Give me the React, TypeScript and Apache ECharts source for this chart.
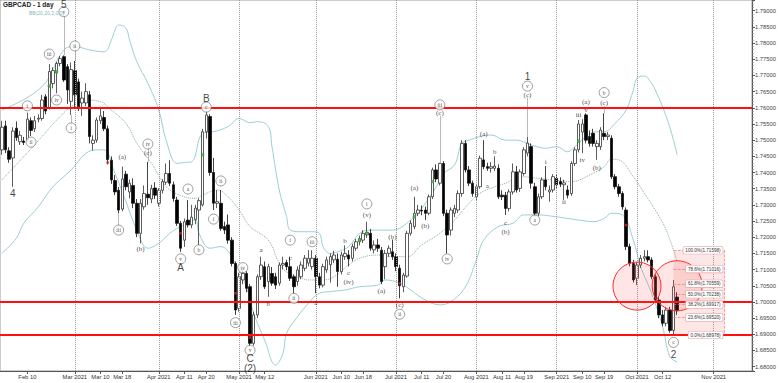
import React, { useEffect, useRef } from "react";
import * as echarts from "echarts";

const FIRST_DAY = "2021-02-01";
const SLOT_COUNT = 206;

function tradingDays(first: string, n: number): string[] {
  const out: string[] = [];
  const d = new Date(first + "T00:00:00Z");
  while (out.length < n) {
    const w = d.getUTCDay();
    if (w !== 0 && w !== 6) out.push(d.toISOString().slice(0, 10));
    d.setUTCDate(d.getUTCDate() + 1);
  }
  return out;
}
const dates = tradingDays(FIRST_DAY, SLOT_COUNT);

// [open, high, low, close] per trading day from 2021-02-01
const ohlc: number[][] = [
  [1.7470, 1.7560, 1.7455, 1.7540], [1.7544, 1.7560, 1.7460, 1.7470], [1.7467, 1.7478, 1.7430, 1.7441],
  [1.7445, 1.7540, 1.7356, 1.7528], [1.7537, 1.7558, 1.7498, 1.7508], [1.7495, 1.7528, 1.7485, 1.7515],
  [1.7497, 1.7510, 1.7485, 1.7493], [1.7500, 1.7585, 1.7495, 1.7565], [1.7560, 1.7570, 1.7513, 1.7530],
  [1.7535, 1.7575, 1.7525, 1.7560], [1.7565, 1.7580, 1.7555, 1.7568], [1.7567, 1.7640, 1.7560, 1.7624],
  [1.7634, 1.7642, 1.7580, 1.7590], [1.7600, 1.7735, 1.7595, 1.7712], [1.7675, 1.7725, 1.7660, 1.7715],
  [1.7708, 1.7742, 1.7645, 1.7737], [1.7737, 1.7760, 1.7728, 1.7752], [1.7758, 1.7762, 1.7680, 1.7686],
  [1.7727, 1.7735, 1.7612, 1.7655], [1.7620, 1.7740, 1.7578, 1.7718], [1.7715, 1.7745, 1.7600, 1.7640],
  [1.7680, 1.7690, 1.7590, 1.7603], [1.7615, 1.7650, 1.7575, 1.7630], [1.7615, 1.7676, 1.7605, 1.7650],
  [1.7640, 1.7652, 1.7490, 1.7511], [1.7490, 1.7515, 1.7468, 1.7500], [1.7500, 1.7570, 1.7492, 1.7562],
  [1.7560, 1.7603, 1.7550, 1.7575], [1.7570, 1.7590, 1.7528, 1.7535], [1.7535, 1.7545, 1.7425, 1.7440],
  [1.7438, 1.7450, 1.7365, 1.7377], [1.7375, 1.7392, 1.7330, 1.7340], [1.7345, 1.7355, 1.7274, 1.7284],
  [1.7287, 1.7418, 1.7280, 1.7380], [1.7395, 1.7405, 1.7345, 1.7356], [1.7340, 1.7378, 1.7320, 1.7367],
  [1.7360, 1.7382, 1.7290, 1.7305], [1.7305, 1.7318, 1.7200, 1.7212], [1.7212, 1.7318, 1.7181, 1.7305],
  [1.7294, 1.7360, 1.7285, 1.7335], [1.7333, 1.7433, 1.7300, 1.7322], [1.7318, 1.7362, 1.7305, 1.7350],
  [1.7352, 1.7370, 1.7318, 1.7330], [1.7305, 1.7352, 1.7295, 1.7345], [1.7345, 1.7380, 1.7335, 1.7372],
  [1.7370, 1.7428, 1.7362, 1.7397], [1.7397, 1.7438, 1.7358, 1.7367], [1.7362, 1.7372, 1.7310, 1.7320],
  [1.7315, 1.7325, 1.7235, 1.7243], [1.7243, 1.7250, 1.7155, 1.7166], [1.7191, 1.7258, 1.7170, 1.7248],
  [1.7253, 1.7315, 1.7230, 1.7238], [1.7238, 1.7300, 1.7228, 1.7262], [1.7255, 1.7300, 1.7240, 1.7290],
  [1.7284, 1.7320, 1.7176, 1.7313], [1.7300, 1.7535, 1.7295, 1.7526], [1.7526, 1.7590, 1.7505, 1.7578],
  [1.7573, 1.7580, 1.7390, 1.7400], [1.7400, 1.7445, 1.7284, 1.7305], [1.7305, 1.7346, 1.7290, 1.7310],
  [1.7305, 1.7346, 1.7220, 1.7227], [1.7233, 1.7248, 1.7210, 1.7222], [1.7238, 1.7270, 1.7180, 1.7191],
  [1.7191, 1.7200, 1.7110, 1.7119], [1.7119, 1.7125, 1.6960, 1.6975], [1.6980, 1.7090, 1.6970, 1.7078],
  [1.7068, 1.7104, 1.7055, 1.7088], [1.7088, 1.7095, 1.7030, 1.7042], [1.7047, 1.7055, 1.6862, 1.6872],
  [1.6872, 1.6970, 1.6865, 1.6960], [1.6960, 1.7085, 1.6950, 1.7078], [1.7078, 1.7140, 1.7068, 1.7114],
  [1.7109, 1.7125, 1.7040, 1.7047], [1.7063, 1.7118, 1.7016, 1.7109], [1.7088, 1.7108, 1.7050, 1.7058],
  [1.7078, 1.7090, 1.7040, 1.7052], [1.7058, 1.7122, 1.7050, 1.7114], [1.7114, 1.7140, 1.7100, 1.7119],
  [1.7122, 1.7130, 1.7098, 1.7109], [1.7109, 1.7140, 1.7065, 1.7073], [1.7078, 1.7085, 1.7027, 1.7047],
  [1.7063, 1.7110, 1.7050, 1.7099], [1.7078, 1.7125, 1.7070, 1.7114], [1.7104, 1.7145, 1.7095, 1.7135],
  [1.7120, 1.7160, 1.7110, 1.7135], [1.7109, 1.7160, 1.7100, 1.7135], [1.7135, 1.7145, 1.7027, 1.7078],
  [1.7078, 1.7090, 1.7042, 1.7052], [1.7052, 1.7118, 1.7045, 1.7109], [1.7099, 1.7140, 1.7090, 1.7130],
  [1.7115, 1.7150, 1.7060, 1.7140], [1.7130, 1.7158, 1.7120, 1.7145], [1.7132, 1.7150, 1.7047, 1.7094],
  [1.7094, 1.7155, 1.7085, 1.7145], [1.7140, 1.7175, 1.7130, 1.7150], [1.7145, 1.7160, 1.7110, 1.7133],
  [1.7135, 1.7180, 1.7125, 1.7171], [1.7166, 1.7195, 1.7158, 1.7186], [1.7186, 1.7205, 1.7175, 1.7196],
  [1.7191, 1.7222, 1.7182, 1.7212], [1.7207, 1.7248, 1.7198, 1.7215], [1.7212, 1.7225, 1.7158, 1.7166],
  [1.7161, 1.7190, 1.7150, 1.7176], [1.7176, 1.7195, 1.7155, 1.7166], [1.7160, 1.7170, 1.7055, 1.7063],
  [1.7109, 1.7160, 1.7070, 1.7150], [1.7150, 1.7175, 1.7140, 1.7166], [1.7155, 1.7193, 1.7130, 1.7140],
  [1.7140, 1.7150, 1.7095, 1.7109], [1.7104, 1.7115, 1.7011, 1.7050], [1.7047, 1.7090, 1.7030, 1.7083],
  [1.7080, 1.7220, 1.7075, 1.7212], [1.7212, 1.7252, 1.7205, 1.7243], [1.7233, 1.7325, 1.7225, 1.7274],
  [1.7274, 1.7300, 1.7265, 1.7284], [1.7283, 1.7298, 1.7268, 1.7281], [1.7284, 1.7295, 1.7253, 1.7274],
  [1.7274, 1.7332, 1.7268, 1.7325], [1.7325, 1.7415, 1.7318, 1.7408], [1.7408, 1.7425, 1.7370, 1.7380],
  [1.7367, 1.7430, 1.7360, 1.7428], [1.7428, 1.7435, 1.7265, 1.7274], [1.7274, 1.7285, 1.7150, 1.7207],
  [1.7222, 1.7292, 1.7205, 1.7284], [1.7274, 1.7300, 1.7262, 1.7289], [1.7284, 1.7345, 1.7275, 1.7335],
  [1.7335, 1.7500, 1.7325, 1.7490], [1.7490, 1.7500, 1.7400, 1.7408], [1.7408, 1.7420, 1.7358, 1.7367],
  [1.7367, 1.7375, 1.7325, 1.7335], [1.7325, 1.7365, 1.7315, 1.7356], [1.7356, 1.7452, 1.7350, 1.7444],
  [1.7439, 1.7500, 1.7410, 1.7418], [1.7418, 1.7430, 1.7405, 1.7413], [1.7413, 1.7432, 1.7400, 1.7418],
  [1.7413, 1.7450, 1.7405, 1.7420], [1.7413, 1.7425, 1.7318, 1.7325], [1.7330, 1.7345, 1.7315, 1.7325],
  [1.7330, 1.7340, 1.7269, 1.7289], [1.7289, 1.7348, 1.7280, 1.7340], [1.7340, 1.7428, 1.7332, 1.7402],
  [1.7402, 1.7420, 1.7338, 1.7346], [1.7351, 1.7410, 1.7340, 1.7402], [1.7397, 1.7478, 1.7390, 1.7470],
  [1.7460, 1.7510, 1.7450, 1.7491], [1.7480, 1.7490, 1.7350, 1.7367], [1.7356, 1.7368, 1.7263, 1.7274],
  [1.7274, 1.7335, 1.7265, 1.7325], [1.7325, 1.7385, 1.7318, 1.7377], [1.7377, 1.7420, 1.7345, 1.7356],
  [1.7340, 1.7360, 1.7310, 1.7346], [1.7346, 1.7395, 1.7338, 1.7387], [1.7382, 1.7395, 1.7350, 1.7362],
  [1.7372, 1.7385, 1.7355, 1.7364], [1.7362, 1.7378, 1.7315, 1.7368], [1.7346, 1.7360, 1.7320, 1.7330],
  [1.7335, 1.7435, 1.7328, 1.7428], [1.7428, 1.7478, 1.7420, 1.7470], [1.7470, 1.7562, 1.7462, 1.7550],
  [1.7525, 1.7565, 1.7460, 1.7550], [1.7578, 1.7583, 1.7490, 1.7500], [1.7511, 1.7530, 1.7480, 1.7490],
  [1.7521, 1.7535, 1.7480, 1.7490], [1.7480, 1.7500, 1.7439, 1.7490], [1.7480, 1.7540, 1.7470, 1.7531],
  [1.7521, 1.7583, 1.7500, 1.7511], [1.7511, 1.7525, 1.7500, 1.7516], [1.7506, 1.7515, 1.7380, 1.7387],
  [1.7387, 1.7395, 1.7348, 1.7356], [1.7356, 1.7365, 1.7325, 1.7335], [1.7335, 1.7342, 1.7285, 1.7294],
  [1.7284, 1.7292, 1.7160, 1.7171], [1.7171, 1.7180, 1.7110, 1.7119], [1.7119, 1.7130, 1.7060, 1.7068],
  [1.7073, 1.7122, 1.7052, 1.7114], [1.7114, 1.7145, 1.7105, 1.7135], [1.7135, 1.7160, 1.7125, 1.7140],
  [1.7140, 1.71598, 1.7122, 1.7130], [1.7130, 1.7138, 1.7070, 1.7078], [1.7078, 1.7085, 1.6998, 1.7006],
  [1.7006, 1.7015, 1.6950, 1.6960], [1.6960, 1.6975, 1.6925, 1.6934], [1.6934, 1.6985, 1.6925, 1.6975],
  [1.6975, 1.6985, 1.6905, 1.6912], [1.6912, 1.7068, 1.68978, 1.7047], [1.7015, 1.7030, 1.6960, 1.69727],
];

// Bollinger band points: [trading-day index, price]
const upperBand: number[][] = [
  [0, 1.7593], [11, 1.7665], [17, 1.7779], [20, 1.7789], [24, 1.7779], [28, 1.7773], [30, 1.7809], [31, 1.7840],
  [32, 1.7856], [34, 1.7846], [35, 1.7809], [37, 1.7742], [40, 1.7676], [43, 1.7593], [45, 1.7500], [48, 1.7428],
  [50, 1.7431], [52, 1.7433], [55, 1.7521], [58, 1.7526], [62, 1.7542], [65, 1.7567], [68, 1.7554], [70, 1.7557],
  [73, 1.7542], [74, 1.7480], [76, 1.7346], [78, 1.7264], [79, 1.7222], [82, 1.7217], [85, 1.7217], [87, 1.7212],
  [88, 1.7171], [90, 1.7150], [92, 1.7155], [95, 1.7171], [98, 1.7212], [101, 1.7222], [107, 1.7222], [112, 1.7253],
  [115, 1.7289], [119, 1.7356], [121, 1.7397], [124, 1.7423], [126, 1.7490], [128, 1.7500], [131, 1.7511],
  [134, 1.7516], [138, 1.7500], [141, 1.7500], [145, 1.7485], [149, 1.7475], [152, 1.7480], [155, 1.7464],
  [157, 1.7480], [160, 1.7511], [163, 1.7526], [165, 1.7526], [168, 1.7552], [171, 1.7593], [173, 1.7655],
  [174, 1.7691], [176, 1.7698], [177, 1.7691], [179, 1.7655], [182, 1.7573], [184, 1.7500], [185, 1.7454],
];
const middleBand: number[][] = [
  [0, 1.7377], [6, 1.7449], [11, 1.7511], [15, 1.7562], [19, 1.7603], [23, 1.7624], [27, 1.7619], [30, 1.7593],
  [34, 1.7552], [37, 1.7490], [41, 1.7428], [44, 1.7372], [46, 1.7346], [50, 1.7325], [53, 1.7320], [55, 1.7330],
  [59, 1.7346], [62, 1.7325], [65, 1.7284], [68, 1.7233], [73, 1.7191], [76, 1.7119], [78, 1.7093], [81, 1.7078],
  [84, 1.7068], [88, 1.7068], [91, 1.7078], [95, 1.7114], [98, 1.7135], [103, 1.7145], [106, 1.7140], [111, 1.7140],
  [115, 1.7176], [120, 1.7212], [124, 1.7253], [128, 1.7305], [131, 1.7336], [135, 1.7356], [138, 1.7367],
  [142, 1.7387], [147, 1.7382], [151, 1.7377], [156, 1.7372], [161, 1.7392], [165, 1.7418], [167, 1.7441],
  [169, 1.7439], [173, 1.7387], [176, 1.7336], [179, 1.7284], [182, 1.7222], [185, 1.7125],
];
const lowerBand: number[][] = [
  [0, 1.7150], [4, 1.7197], [6, 1.7243], [10, 1.7294], [14, 1.7356], [19, 1.7408], [23, 1.7459], [26, 1.7470],
  [28, 1.7470], [31, 1.7397], [34, 1.7310], [37, 1.7222], [40, 1.7166], [43, 1.7181], [46, 1.7212], [49, 1.7233],
  [53, 1.7253], [54, 1.7212], [57, 1.7166], [60, 1.7171], [64, 1.7119], [67, 1.7047], [69, 1.6965], [72, 1.6882],
  [75, 1.6805], [77, 1.6841], [78, 1.6903], [81, 1.6954], [84, 1.6996], [87, 1.7027], [90, 1.7032], [94, 1.7037],
  [98, 1.7047], [103, 1.7052], [105, 1.7068], [109, 1.7058], [112, 1.7037], [116, 1.7006], [120, 1.6991],
  [123, 1.7001], [127, 1.7047], [130, 1.7130], [132, 1.7191], [136, 1.7233], [140, 1.7243], [143, 1.7269],
  [147, 1.7269], [150, 1.7266], [155, 1.7258], [158, 1.7253], [162, 1.7248], [165, 1.7258], [167, 1.7274],
  [170, 1.7269], [173, 1.7191], [175, 1.7109], [178, 1.7027], [181, 1.6924], [183, 1.6831], [185, 1.6815],
];

const tickDates = [
  "2021-02-10", "2021-03-01", "2021-03-10", "2021-03-18", "2021-04-01", "2021-04-12", "2021-04-20", "2021-05-03",
  "2021-05-12", "2021-06-01", "2021-06-10", "2021-06-18", "2021-07-01", "2021-07-12", "2021-07-20", "2021-08-02",
  "2021-08-11", "2021-08-19", "2021-09-01", "2021-09-10", "2021-09-20", "2021-10-01", "2021-10-12", "2021-11-01",
];
const tickTexts = [
  "Feb 10", "Mar 2021", "Mar 10", "Mar 18", "Apr 2021", "Apr 11", "Apr 20", "May 2021",
  "May 12", "Jun 2021", "Jun 10", "Jun 18", "Jul 2021", "Jul 11", "Jul 20", "Aug 2021",
  "Aug 11", "Aug 19", "Sep 2021", "Sep 10", "Sep 19", "Oct 2021", "Oct 12", "Nov 2021",
];
const monthStarts = [
  "2021-03-01", "2021-04-01", "2021-05-03", "2021-06-01", "2021-07-01", "2021-08-02", "2021-09-01", "2021-10-01", "2021-11-01",
];

const redLevels = [1.75725, 1.70493, 1.68895];
const fibNames = ["100.0%", "78.6%", "61.8%", "50.0%", "38.2%", "23.6%", "0.0%"];
const fibLevels = [1.71598, 1.71016, 1.70559, 1.70238, 1.69917, 1.6952, 1.68978];
const fibFromIdx = 184;
const fibToIdx = 198;
// [index, price, diameter]
const zoneCircles: number[][] = [[174, 1.7049, 48], [185, 1.7050, 50]];
const lastClose = 1.69727;

// wave labels [index, price, text]
const circledLabels: [number, number, string][] = [
  [17, 1.7897, "v"], [13, 1.7766, "iii"], [15, 1.7624, "iv"], [7, 1.7606, "i"], [8, 1.7494, "ii"],
  [20, 1.7791, "ii"], [19, 1.7538, "i"], [32, 1.7222, "iii"], [40, 1.7488, "iv"], [51, 1.7349, "a"],
  [49, 1.7133, "v"], [56, 1.7602, "c"], [54, 1.7161, "b"], [60, 1.7374, "ii"], [58, 1.7256, "i"],
  [66, 1.7106, "iv"], [64, 1.6936, "iii"], [68, 1.6851, "v"], [79, 1.7191, "i"], [80, 1.7011, "ii"],
  [85, 1.7186, "iii"], [100, 1.7303, "i"], [109, 1.6962, "ii"], [120, 1.7609, "iii"], [122, 1.7133, "iv"],
  [144, 1.7667, "v"], [146, 1.7253, "a"], [165, 1.7647, "b"], [184, 1.6875, "c"],
];
const plainLabels: [number, number, string][] = [
  [33, 1.7448, "(a)"], [40, 1.7460, "(c)"], [38, 1.7164, "(b)"], [71, 1.7161, "a"], [73, 1.6994, "b"],
  [79, 1.7135, "c"], [86, 1.6998, "a"], [94, 1.7189, "b"], [95, 1.7089, "c"], [95, 1.7063, "(iv)"],
  [100, 1.7269, "(v)"], [104, 1.7034, "(a)"], [107, 1.7202, "(b)"], [109, 1.6991, "(c)"], [113, 1.7351, "(a)"],
  [116, 1.7235, "(b)"], [120, 1.7583, "(c)"], [132, 1.7519, "(a)"], [133, 1.7358, "a"], [135, 1.7463, "b"],
  [138, 1.7245, "c"], [138, 1.7217, "(b)"], [144, 1.7640, "(c)"], [149, 1.7433, "i"], [154, 1.7310, "ii"],
  [158, 1.7578, "iii"], [159, 1.7439, "iv"], [160, 1.7593, "v"], [160, 1.7619, "(a)"], [163, 1.7415, "(b)"],
  [165, 1.7614, "(c)"],
];
const bigLabels: [number, number, string][] = [
  [17, 1.7919, "5"], [3, 1.7334, "4"], [49, 1.7105, "A"], [56, 1.7630, "B"], [68, 1.6824, "C"],
  [68, 1.6793, "(2)"], [144, 1.7698, "1"], [184, 1.6839, "2"],
];
// label pointer lines [index, fromPrice, toPrice]
const connectors: number[][] = [
  [17, 1.7884, 1.7762], [20, 1.7782, 1.7745], [19, 1.7546, 1.7578], [32, 1.7230, 1.7274],
  [40, 1.7480, 1.7433], [120, 1.7575, 1.7430], [144, 1.7632, 1.7510], [165, 1.7606, 1.7583],
];
const greenDots: number[][] = [
  [13, 1.7667], [15, 1.7711], [55, 1.7455], [98, 1.7191], [100, 1.7212], [113, 1.7263], [118, 1.7372], [158, 1.7497],
];
const redDots: number[][] = [
  [29, 1.7431], [49, 1.7212], [64, 1.7027], [68, 1.6890], [109, 1.7058], [171, 1.7238],
];

const Y_MIN = 1.67866;
const Y_MAX = 1.79331;
const SANS = "Liberation Sans, Arial, sans-serif";
const SERIF = "Liberation Serif, Times New Roman, serif";

export default function App() {
  const ref = useRef<HTMLDivElement>(null);
  useEffect(() => {
    if (!ref.current) return;
    const chart = echarts.init(ref.current, undefined, { renderer: "svg" });
    const tickMap: Record<string, string> = {};
    tickDates.forEach((d, k) => (tickMap[d] = tickTexts[k]));
    const isTick = (_i: number, v: string) => v in tickMap;

    const labelSeries = (rows: [number, number, string][], kind: string) => ({
      type: "scatter",
      clip: false,
      z: 6,
      silent: true,
      symbol: "circle",
      symbolSize: kind === "circled" ? 10 : 1,
      itemStyle:
        kind === "circled"
          ? { color: "#ffffff", borderColor: "#555", borderWidth: 0.7 }
          : { color: "rgba(0,0,0,0)" },
      label: {
        show: true,
        position: "inside",
        color: "#111",
        textBorderWidth: 0,
        textBorderColor: "transparent",
        fontSize: kind === "big" ? 10 : kind === "circled" ? 5.5 : 7,
        fontFamily: kind === "big" ? SANS : SERIF,
        formatter: (p: any) => p.data.name,
      },
      data: rows.map(([i, p, t]) => ({ name: t, value: [dates[i], p] })),
    });

    const option: any = {
      animation: false,
      backgroundColor: "#ffffff",
      grid: {
        left: -5.37, right: 30, top: 0, bottom: 12, show: true,
        borderColor: "#9a9a9a", borderWidth: 1, backgroundColor: "rgba(0,0,0,0)",
      },
      xAxis: {
        type: "category",
        data: dates,
        boundaryGap: true,
        axisLine: { lineStyle: { color: "#555", width: 1 } },
        axisTick: { show: true, interval: isTick, alignWithLabel: true, length: 3, lineStyle: { color: "#555" } },
        axisLabel: {
          interval: isTick, formatter: (v: string) => tickMap[v] ?? "",
          fontSize: 5.8, color: "#333", margin: 3, fontFamily: SANS,
        },
        splitLine: { show: false },
      },
      yAxis: {
        type: "value",
        position: "right",
        min: Y_MIN,
        max: Y_MAX,
        splitNumber: 23,
        axisLine: { show: true, lineStyle: { color: "#555" } },
        axisTick: { show: true, length: 3, lineStyle: { color: "#555" } },
        minorTick: { show: true, splitNumber: 5, length: 1.5, lineStyle: { color: "#777" } },
        axisLabel: {
          fontSize: 5.8, color: "#444", margin: 3, fontFamily: SANS,
          formatter: (v: number) => {
            const k = v * 200;
            return Math.abs(k - Math.round(k)) < 1e-6 ? v.toFixed(5) : "";
          },
        },
        splitLine: { show: false },
      },
      graphic: [
        { type: "text", left: 3, top: 1, z: 100, style: { text: "GBPCAD - 1 day", fontSize: 6.5, fontWeight: "bold", fill: "#222", fontFamily: SANS } },
        { type: "text", left: 29, top: 10, z: 100, style: { text: "BB(20,20,2,0,0)", fontSize: 5, fill: "#7fb8bb", fontFamily: SANS } },
      ],
      series: [
        {
          name: "upper",
          type: "line",
          data: upperBand.map(([i, p]) => [dates[i], p]),
          showSymbol: false,
          smooth: 0.4,
          silent: true,
          z: 1,
          lineStyle: { color: "#9ccfd2", width: 1 },
          markLine: {
            silent: true, symbol: "none", animation: false,
            label: { show: false },
            lineStyle: { type: "dotted", color: "#9a9a9a", width: 1 },
            data: monthStarts.map((d) => ({ xAxis: d })),
          },
        },
        {
          name: "middle",
          type: "line",
          data: middleBand.map(([i, p]) => [dates[i], p]),
          showSymbol: false,
          smooth: 0.4,
          silent: true,
          z: 1,
          lineStyle: { color: "#88acae", width: 1, type: "dotted" },
          markLine: {
            silent: true, symbol: "none", animation: false,
            label: { show: false },
            lineStyle: { type: "solid", color: "#a8a8a8", width: 0.8 },
            data: connectors.map(([i, a, b]) => [{ coord: [dates[i], a] }, { coord: [dates[i], b] }]),
          },
        },
        {
          name: "lower",
          type: "line",
          data: lowerBand.map(([i, p]) => [dates[i], p]),
          showSymbol: false,
          smooth: 0.4,
          silent: true,
          z: 1,
          lineStyle: { color: "#9ccfd2", width: 1 },
          markArea: {
            silent: true,
            itemStyle: { color: "rgba(240,130,130,0.2)" },
            data: [[{ coord: [dates[fibFromIdx], fibLevels[0]] }, { coord: [dates[fibToIdx], fibLevels[6]] }]],
          },
          markPoint: {
            silent: true,
            data: zoneCircles.map(([i, p, s]) => ({
              coord: [dates[i], p], symbol: "circle", symbolSize: s,
              itemStyle: { color: "rgba(255,70,70,0.14)", borderColor: "#ff2a2a", borderWidth: 1 },
              label: { show: false },
            })),
          },
        },
        {
          name: "fib",
          type: "line",
          data: [],
          silent: true,
          markLine: {
            silent: true, symbol: "none", animation: false,
            lineStyle: { type: "dashed", color: "#ef7a7a", width: 0.7 },
            label: {
              show: true, position: "insideEnd", distance: 2, formatter: "{b}",
              fontSize: 4.6, color: "#333", fontFamily: SANS, backgroundColor: "#ffffff",
              borderColor: "#e69a9a", borderWidth: 0.6, borderRadius: 1, padding: [1, 2],
            },
            data: [
              ...fibLevels.map((lv, k) => [
                { name: `${fibNames[k]}(${lv.toFixed(5)})`, coord: [dates[fibFromIdx], lv] },
                { coord: [dates[fibToIdx], lv] },
              ]),
              [
                { name: "", coord: [dates[fibToIdx], fibLevels[0]], label: { show: false } },
                { coord: [dates[fibToIdx], fibLevels[6]] },
              ],
            ],
          },
        },
        {
          name: "GBPCAD",
          type: "candlestick",
          z: 3,
          barWidth: 3,
          data: ohlc.map(([o, h, l, c], i) => ({ value: [o, c, l, h], name: dates[i] })),
          itemStyle: { color: "#ffffff", color0: "#000000", borderColor: "#333333", borderColor0: "#111111", borderWidth: 0.8 },
          markLine: {
            silent: true, symbol: "none", animation: false,
            z: 5,
            label: { show: false },
            lineStyle: { color: "#ff1010", width: 2, type: "solid" },
            data: [
              ...redLevels.map((v) => ({ yAxis: v })),
              {
                yAxis: lastClose,
                lineStyle: { opacity: 0, width: 0 },
                label: {
                  show: true, position: "end", distance: 1, formatter: lastClose.toFixed(5),
                  fontSize: 5.8, color: "#222", fontFamily: SANS, backgroundColor: "#ffffff",
                  borderColor: "#333", borderWidth: 0.6, padding: [1, 2],
                },
              },
            ],
          },
        },
        {
          type: "scatter", z: 4, silent: true, symbolSize: 3.5,
          itemStyle: { color: "#3aa63a" },
          data: greenDots.map(([i, p]) => [dates[i], p]),
        },
        {
          type: "scatter", z: 4, silent: true, symbolSize: 3,
          itemStyle: { color: "#e02020" },
          data: redDots.map(([i, p]) => [dates[i], p]),
        },
        labelSeries(circledLabels, "circled"),
        labelSeries(plainLabels, "plain"),
        labelSeries(bigLabels, "big"),
      ],
    };
    chart.setOption(option);
    return () => chart.dispose();
  }, []);
  return (
    <div
      ref={ref}
      style={{ position: "fixed", left: 0, top: 0, width: 782, height: 383, background: "#fff" }}
    />
  );
}
